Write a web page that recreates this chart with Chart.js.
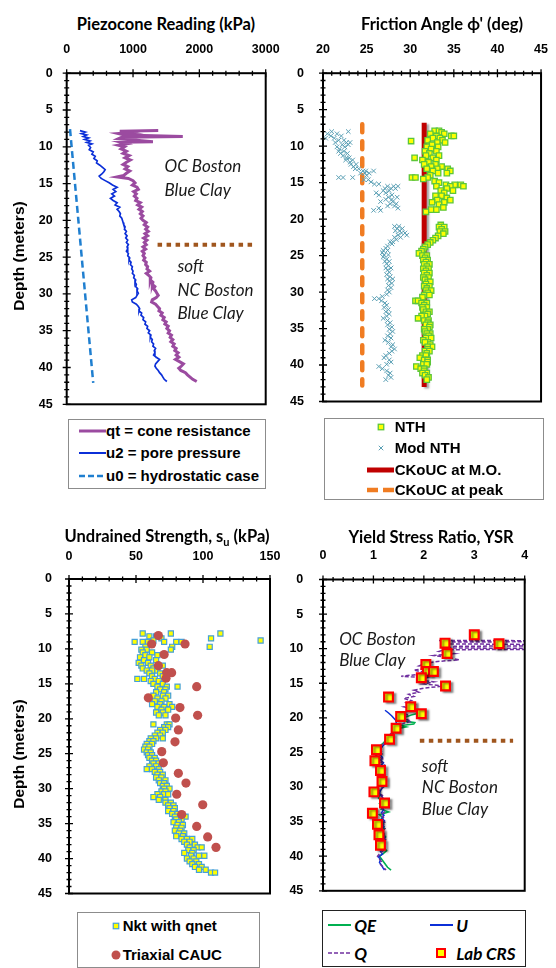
<!DOCTYPE html>
<html>
<head>
<meta charset="utf-8">
<script src="https://cdn.jsdelivr.net/npm/chart.js@4.4.1/dist/chart.umd.min.js"></script>
<style>
  body { margin: 0; background: #fff; }
  #page { position: relative; width: 556px; height: 968px; overflow: hidden; background: #fff; }
  canvas { position: absolute; }
  .title { position: absolute; font: bold 16.5px Lato, sans-serif; color: #000; white-space: nowrap; transform: translate(-50%, -50%); }
  .ytitle { position: absolute; font: bold 15.5px "Liberation Sans", Arial, sans-serif; white-space: nowrap; transform: translate(-50%, -50%) rotate(-90deg); }
  .legend { position: absolute; border: 1px solid #8c8c8c; background: #fff; box-sizing: border-box; }
  .legend svg { position: absolute; overflow: visible; }
  .item { position: absolute; white-space: nowrap; font: bold 15px "Liberation Sans", Arial, sans-serif; line-height: 20px; height: 20px; }
  .legend.ital .item { font: italic bold 17px Lato, sans-serif; }
</style>
</head>
<body>
<div id="page">
  <canvas id="cPiezo"></canvas>
  <canvas id="cPhi"></canvas>
  <canvas id="cSu"></canvas>
  <canvas id="cYsr"></canvas>
  <div class="title" style="left:166px; top:24px">Piezocone Reading (kPa)</div>
  <div class="title" style="left:442px; top:24px">Friction Angle ϕ' (deg)</div>
  <div class="title" style="left:167px; top:537px">Undrained Strength, s<sub style="font-size:11px">u</sub> (kPa)</div>
  <div class="title" style="left:431px; top:537px">Yield Stress Ratio, YSR</div>
  <div class="ytitle" style="left:19px; top:256px">Depth (meters)</div>
  <div class="ytitle" style="left:19px; top:754px">Depth (meters)</div>
</div>
<script>
// ---- data: rows are [depth (m), value, value, ...] ----

// Piezocone reading (kPa)
const qtProfile = [[7.8,1380],[7.9,800],[8.1,950],[8.2,780],[8.4,870],[8.6,1750],[8.7,830],[8.9,780],[9.1,1050],[9.3,1300],[9.4,820],[9.6,900],[9.8,780],[10.0,870],[10.3,820],[10.6,900],[10.9,850],[11.2,940],[11.5,880],[11.8,960],[12.1,900],[12.4,850],[12.7,920],[13.0,880],[13.3,950],[13.6,900],[13.9,860],[14.1,760],[14.3,930],[14.6,1000],[14.9,1030],[15.2,990],[15.5,1060],[15.8,1080],[16.1,1010],[16.4,1050],[16.7,1020],[17.0,1060],[17.3,1040],[17.6,1110],[17.9,1070],[18.2,1130],[18.5,1090],[18.8,1140],[19.1,1110],[19.4,1150],[19.7,1120],[20.0,1150],[20.3,1200],[20.6,1170],[20.9,1220],[21.2,1190],[21.5,1230],[21.8,1180],[22.1,1220],[22.4,1160],[22.7,1210],[23.0,1170],[23.3,1200],[23.6,1150],[23.9,1190],[24.2,1140],[24.5,1170],[24.8,1150],[25.1,1180],[25.4,1160],[25.7,1200],[26.0,1190],[26.3,1220],[26.6,1210],[26.9,1250],[27.2,1200],[27.5,1240],[27.8,1270],[28.1,1260],[28.4,1300],[28.7,1290],[29.0,1330],[29.3,1310],[29.6,1340],[29.9,1360],[30.2,1380],[30.5,1350],[30.8,1290],[31.1,1280],[31.4,1340],[31.7,1370],[32.0,1400],[32.3,1390],[32.6,1440],[32.9,1420],[33.2,1470],[33.5,1450],[33.8,1500],[34.1,1480],[34.4,1530],[34.7,1510],[35.0,1550],[35.3,1530],[35.6,1580],[35.9,1560],[36.2,1600],[36.5,1570],[36.8,1620],[37.1,1600],[37.4,1650],[37.7,1630],[38.0,1680],[38.3,1650],[38.6,1690],[38.9,1640],[39.2,1700],[39.5,1760],[39.8,1730],[40.1,1690],[40.4,1720],[40.7,1790],[41.0,1820],[41.3,1860],[41.6,1900],[41.9,1960]];
const u2Profile = [[7.8,200],[8.0,280],[8.2,220],[8.4,300],[8.6,250],[8.8,330],[9.0,270],[9.2,350],[9.4,300],[9.6,380],[9.8,330],[10.1,360],[10.4,340],[10.7,400],[11.0,380],[11.3,430],[11.6,410],[11.9,460],[12.2,450],[12.5,500],[12.8,540],[13.1,580],[13.4,560],[13.7,530],[14.0,490],[14.3,520],[14.6,580],[14.9,640],[15.2,690],[15.5,760],[15.8,700],[16.1,740],[16.4,680],[16.7,720],[17.0,660],[17.3,700],[17.6,760],[17.9,730],[18.2,800],[18.5,760],[18.8,790],[19.1,810],[19.4,800],[19.7,830],[20.0,840],[20.3,850],[20.6,860],[20.9,880],[21.2,870],[21.5,900],[21.8,880],[22.1,910],[22.4,890],[22.7,920],[23.0,900],[23.3,930],[23.6,910],[23.9,920],[24.2,900],[24.5,930],[24.8,920],[25.1,950],[25.4,940],[25.7,970],[26.0,960],[26.3,990],[26.6,980],[26.9,1000],[27.2,990],[27.5,1020],[27.8,1010],[28.1,1040],[28.4,1030],[28.7,1050],[29.0,1040],[29.3,1070],[29.6,1060],[29.9,1080],[30.2,1060],[30.5,1040],[30.8,980],[31.1,990],[31.4,1050],[31.7,1080],[32.0,1100],[32.3,1090],[32.6,1130],[32.9,1120],[33.2,1160],[33.5,1150],[33.8,1190],[34.1,1180],[34.4,1220],[34.7,1210],[35.0,1250],[35.3,1230],[35.6,1270],[35.9,1260],[36.2,1290],[36.5,1280],[36.8,1310],[37.1,1300],[37.4,1340],[37.7,1320],[38.0,1330],[38.3,1310],[38.6,1350],[38.9,1400],[39.2,1370],[39.5,1340],[39.8,1330],[40.1,1350],[40.4,1380],[40.7,1400],[41.0,1430],[41.3,1450],[41.6,1470],[41.9,1510]];
const u0Profile = [[7.6,50],[42.1,400]];
const piezoBoundary = [[23.3,1370],[23.3,2860]];

// Friction angle (deg)
const nthPoints = [[7.9,32.8,33.3],[8.1,33.6],[8.3,32.3,33.9],[8.6,33.0,34.7,35.0],[8.9,32.6,33.4],[9.2,32.0,33.7],[9.3,30.1],[9.5,33.1,34.0],[9.8,32.5],[10.1,31.9,33.2],[10.4,32.4],[10.7,31.7,33.0],[11.0,32.2],[11.3,31.8,33.3],[11.6,30.5,32.6],[11.9,31.4,33.0],[12.2,32.1],[12.5,32.9,31.6],[12.8,32.4,33.6],[13.1,31.9,33.1,34.3],[13.4,32.6,34.6],[13.7,33.2,34.2],[14.0,32.3],[14.3,30.2,30.6,32.0],[14.5,31.5],[14.8,32.8],[15.0,33.3],[15.3,34.1,35.1,35.8],[15.5,33.0,34.6,36.1],[15.8,34.2],[16.1,33.5,34.9],[16.4,33.9],[16.8,32.9,33.6],[17.1,34.2],[17.4,33.1,34.6],[17.7,32.5,33.9],[18.0,33.3],[18.4,33.8],[18.7,32.4,33.0],[19.0,31.8],[20.8,33.5],[21.1,33.3,33.9],[21.4,33.6],[21.7,33.4,34.0],[22.0,33.8],[22.3,33.2],[22.6,32.9],[22.9,32.6],[23.2,32.3],[23.5,32.0],[23.8,31.7],[24.1,31.5],[24.4,31.3],[24.7,31.0],[25.0,31.4,31.9],[25.3,31.7],[25.6,32.0,31.5],[25.9,31.8],[26.2,32.2,31.6],[26.5,31.9],[26.8,31.5,32.1],[27.1,31.8],[27.4,32.2,31.6],[27.7,31.9],[28.0,32.1,31.5],[28.3,31.7],[28.6,32.0,32.3],[28.9,31.8],[29.2,32.2,31.6],[29.5,31.9],[29.8,32.4,31.8],[30.1,32.0],[30.4,31.6,32.2],[30.7,31.4],[31.2,30.6,30.9],[31.5,31.3,31.9],[31.8,31.6],[32.1,31.9,31.4],[32.4,31.5],[32.7,31.8,32.2],[33.0,32.0],[33.3,31.7,31.3],[33.6,30.9],[33.9,31.6,32.1],[34.2,32.0],[34.5,31.8,32.3],[34.8,32.2],[35.1,32.0,31.6],[35.4,31.7],[35.7,32.3,31.9],[36.0,32.1],[36.3,31.8,32.4],[36.6,31.5],[36.9,32.0,31.7],[37.2,32.3],[37.5,32.5,32.0],[37.8,32.0],[38.1,31.7,32.2],[38.4,31.9],[38.7,31.4,31.8],[39.0,31.1],[39.3,31.6,32.0],[39.6,32.0],[39.9,31.5,31.9],[40.2,30.7],[40.5,31.2,31.6],[40.8,31.6],[41.1,31.9,31.4],[41.4,31.7],[41.7,32.1],[42.0,31.9]];
const modNthPoints = [[8.0,21.0,22.9],[8.3,20.5,21.6],[8.6,20.9,22.1],[8.9,21.3,20.3],[9.2,21.8,22.4],[9.5,21.4,22.7,23.1],[9.8,22.2,22.9],[10.1,21.6,22.5],[10.4,21.9],[10.7,22.4,21.8],[11.0,22.0,22.8],[11.3,22.3],[11.6,22.7,23.0],[11.9,22.6,23.4],[12.2,23.1],[12.5,23.2,23.8],[12.8,23.5],[13.1,24.1,23.7],[13.4,24.6,25.8,24.9],[13.7,24.3,25.3,24.8],[14.0,25.0],[14.3,21.8,22.3,23.4],[14.6,24.7,25.2],[14.9,25.5],[15.2,25.9,26.4],[15.5,27.4,28.1,28.6],[15.8,27.1,27.8,28.3],[16.1,26.9,27.6],[16.4,26.1,27.2],[16.7,26.4,27.9],[17.0,27.5,28.5],[17.3,27.2,27.9],[17.6,26.6,28.0],[17.9,27.7,28.4],[18.2,28.2,27.4],[18.5,26.4,28.6],[18.8,25.8,26.6],[21.0,28.2,28.7],[21.3,28.5,29.1],[21.6,28.8,28.3],[21.9,29.4,29.0],[22.2,28.6,29.6],[22.5,28.9,28.2],[22.8,28.4],[23.1,28.0,27.7],[23.4,27.9],[23.7,27.4],[24.0,27.2],[24.3,26.9,27.4],[24.6,26.8],[24.9,27.0,27.5],[25.2,26.9],[25.5,27.3],[25.8,27.1,27.6],[26.1,27.3],[26.4,27.5],[26.7,27.2,27.8],[27.0,27.4],[27.3,27.6],[27.6,27.3],[27.9,27.7],[28.2,27.4,28.0],[28.5,27.6],[28.8,27.9],[29.1,27.5],[29.4,27.8],[29.7,27.4],[30.0,27.6],[30.3,27.3],[30.6,26.8],[30.9,25.9,26.4],[31.2,26.7],[31.5,27.1],[31.8,27.3],[32.1,27.0],[32.4,27.5],[32.7,27.2],[33.0,27.6],[33.3,27.3],[33.6,26.9],[33.9,27.4],[34.2,27.7],[34.5,27.4],[34.8,27.9],[35.1,27.6],[35.4,28.0],[35.7,27.7],[36.0,27.4],[36.3,27.8],[36.6,27.1],[36.9,27.5],[37.2,28.0],[37.5,27.8],[37.8,28.2],[38.1,27.9],[38.4,27.6],[38.7,27.2],[39.0,27.0],[39.3,27.6],[39.6,27.8],[39.9,27.3],[40.2,26.4],[40.5,26.8],[40.8,27.3],[41.1,27.7],[41.4,27.5],[41.7,27.8],[42.0,27.2]];
const ckoucMO = [[6.8,31.6],[43.0,31.6]];
const ckoucPeak = [[7.0,24.5],[42.8,24.5]];

// Undrained strength (kPa)
const nktPoints = [[7.8,55,76,113],[8.2,60,65],[8.5,69,106],[8.8,63,143],[9.0,49,55,59,71,80,84],[9.3,61],[9.7,57,77,105],[10.1,54,58,76],[10.5,55,62],[10.9,57,66],[11.2,53,60],[11.6,56,65],[12.0,52,59],[12.4,54,61,70],[12.8,55,63],[13.1,58,62,66],[13.5,60,68],[13.9,62,70],[14.3,51,56,64],[14.6,61,67],[15.0,63,70],[15.4,66,73,81],[15.8,68,72],[16.2,65,71],[16.7,63,70,74],[17.1,66,72],[17.5,64,69],[17.9,62,68,75],[18.3,66,71,77],[18.7,69,74],[19.1,65,70],[19.5,67,72],[20.8,63,73,75],[21.2,71,74],[21.6,68,72],[22.0,66,70],[22.4,64,68],[22.8,61,65,70],[23.2,60,63],[23.6,58,62],[24.0,57,60],[24.4,56,59],[24.8,58,61],[25.2,59,62],[25.6,60,64],[26.0,62,65],[26.4,63,67],[26.8,60,65],[27.2,58,62,67],[27.6,64,68],[28.0,66,70],[28.4,65,69],[28.8,67,72],[29.2,68,71],[29.6,70,73],[30.0,71,75],[30.4,69,72],[30.8,66,71,74],[31.2,63,68],[31.6,67,72],[32.0,72,76],[32.4,74,78],[32.8,75,79],[33.2,74,78],[33.6,77,81],[34.0,79,83,87],[34.4,80,84],[34.8,78,82],[35.2,81,85],[35.6,80,84],[36.0,79,83],[36.4,82,86],[36.8,80,85],[37.2,84,88,92],[37.6,86,90],[38.0,88,94],[38.4,90,96,99],[38.8,89,93],[39.2,86,92],[39.6,91,97,101],[40.0,88,93],[40.4,90,95],[40.8,92,97],[41.2,94,99],[41.6,97,102],[42.0,106,109]];
const caucPoints = [[8.1,66.7],[9.3,61.7,86.6],[10.8,71.0],[12.4,66.7],[13.4,72.9,76.6],[14.2,72.4],[15.4,95.3],[17.0,59.2],[18.4,82.8],[19.5,96.0],[19.9,79.6],[21.6,81.6],[23.3,79.1],[24.7,69.2],[26.3,70.4],[27.8,81.6],[29.2,87.3],[30.8,80.4],[32.3,99.8],[33.7,84.1],[35.4,95.3],[36.9,103.5],[38.4,109.7]];

// Yield stress ratio
const qProfile = [[8.8,2.3],[8.85,4.3],[9.0,4.3],[9.05,2.5],[9.3,2.4],[9.4,4.3],[9.6,4.3],[9.65,2.6],[9.9,2.5],[9.95,4.3],[10.1,4.3],[10.15,2.4],[10.4,2.3],[10.7,2.6],[11.0,2.2],[11.3,2.5],[11.6,2.7],[11.9,2.2],[12.2,2.0],[12.5,1.9],[12.8,2.1],[13.1,1.8],[13.4,2.0],[13.7,1.9],[14.0,1.55],[14.2,2.05],[14.5,1.9],[14.8,2.2],[15.1,2.0],[15.4,2.4],[15.7,2.0],[16.0,1.8],[16.3,1.9],[16.6,1.7],[16.9,1.8],[17.2,1.6],[17.5,1.75],[17.8,1.65],[18.1,1.8],[18.4,1.6],[18.7,1.75],[19.0,1.7],[19.3,1.6],[19.6,1.7],[19.9,1.55],[20.2,1.65],[20.5,1.75],[20.8,1.6],[21.1,1.5],[21.4,1.45],[21.7,1.4],[22.0,1.38],[22.4,1.33],[22.8,1.28],[23.2,1.27],[23.6,1.22],[24.0,1.17],[24.4,1.12],[24.8,1.13],[25.2,1.17],[25.6,1.12],[26.0,1.2],[26.4,1.15],[26.8,1.22],[27.2,1.16],[27.6,1.2],[28.0,1.14],[28.4,1.21],[28.8,1.16],[29.2,1.2],[29.6,1.15],[30.0,1.2],[30.4,1.12],[30.8,1.1],[31.2,1.18],[31.6,1.14],[32.0,1.2],[32.4,1.16],[32.8,1.22],[33.2,1.17],[33.6,1.22],[34.0,1.15],[34.4,1.2],[34.8,1.17],[35.2,1.24],[35.6,1.18],[36.0,1.23],[36.4,1.17],[36.8,1.22],[37.2,1.19],[37.6,1.24],[38.0,1.18],[38.4,1.22],[38.8,1.15],[39.2,1.2],[39.6,1.13],[40.0,1.08],[40.4,1.12],[40.8,1.16],[41.2,1.14],[41.6,1.2],[42.0,1.25]];
const qeProfile = [[19.3,1.92],[19.6,1.75],[20.0,1.6],[20.4,1.55],[20.7,1.82],[20.9,1.8],[21.1,1.55],[21.3,1.65],[21.6,1.45],[22.0,1.42],[22.4,1.35],[22.8,1.3],[23.2,1.25],[23.6,1.2],[24.0,1.14],[24.4,1.1],[24.8,1.05],[25.2,1.08],[25.6,1.04],[26.0,1.1],[26.4,1.06],[26.8,1.12],[27.2,1.08],[27.6,1.14],[28.0,1.1],[28.4,1.16],[28.8,1.12],[29.2,1.18],[29.6,1.12],[30.0,1.08],[30.4,1.02],[30.8,1.06],[31.2,1.12],[31.6,1.1],[32.0,1.16],[32.4,1.12],[32.8,1.2],[33.2,1.15],[33.6,1.3],[34.0,1.12],[34.4,1.18],[34.8,1.14],[35.2,1.2],[35.6,1.16],[36.0,1.22],[36.4,1.15],[36.8,1.2],[37.2,1.24],[37.6,1.18],[38.0,1.22],[38.4,1.17],[38.8,1.21],[39.2,1.26],[39.6,1.2],[40.0,1.12],[40.4,1.16],[40.8,1.2],[41.2,1.24],[41.6,1.28],[42.0,1.35]];
const uProfile = [[18.9,1.23],[19.3,1.3],[19.7,1.36],[20.1,1.41],[20.5,1.46],[20.9,1.45],[21.3,1.42],[21.7,1.44],[22.1,1.4],[22.5,1.36],[22.9,1.33],[23.3,1.3],[23.7,1.24],[24.1,1.18],[24.5,1.14],[24.9,1.16],[25.3,1.12],[25.7,1.18],[26.1,1.14],[26.5,1.2],[26.9,1.15],[27.3,1.19],[27.7,1.14],[28.1,1.2],[28.5,1.16],[28.9,1.21],[29.3,1.17],[29.7,1.22],[30.1,1.18],[30.5,1.14],[30.9,1.12],[31.3,1.16],[31.7,1.2],[32.1,1.14],[32.5,1.19],[32.9,1.15],[33.3,1.2],[33.7,1.16],[34.1,1.21],[34.5,1.17],[34.9,1.22],[35.3,1.16],[35.7,1.21],[36.1,1.15],[36.5,1.2],[36.9,1.17],[37.3,1.23],[37.7,1.18],[38.1,1.22],[38.5,1.16],[38.9,1.2],[39.3,1.14],[39.7,1.18],[40.1,1.1],[40.5,1.14],[40.9,1.12],[41.3,1.16],[41.7,1.19],[42.0,1.22]];
const crsPoints = [[8.0,3.0],[9.2,2.42],[9.3,3.49],[10.7,2.46],[12.3,2.04],[13.3,2.07,2.19],[14.2,1.95],[15.4,2.43],[17.0,1.3],[18.4,1.74],[19.4,1.95],[19.8,1.54],[21.5,1.45],[23.1,1.32],[24.6,1.06],[26.2,1.03],[27.6,1.14],[29.2,1.17],[30.7,1.01],[32.3,1.22],[33.8,0.98],[35.4,1.08],[36.9,1.11],[38.4,1.14]];
const ysrBoundary = [[23.3,1.92],[23.3,3.77]];

// rows -> {x: value, y: depth}
const toXY = rows => rows.flatMap(r => r.slice(1).map(v => ({ x: v, y: r[0] })));

const tickFont = { family: '"Liberation Sans", Arial, sans-serif', size: 12.5, weight: 'bold' };

// frame + Excel style crossing ticks (major and minor)
const frameTicks = {
    id: 'frameTicks',
    afterDraw(chart, args, opts) {
        const { ctx, chartArea: a, scales: { x, y } } = chart;
        ctx.save();
        ctx.strokeStyle = '#000';
        ctx.lineWidth = 1.3;
        ctx.beginPath();
        const xMajor = x.options.ticks.stepSize;
        for (let i = 0; x.min + i * opts.xMinor <= x.max + 1e-9; i++) {
            const v = x.min + i * opts.xMinor;
            const major = Math.abs((v - x.min) / xMajor - Math.round((v - x.min) / xMajor)) < 1e-6;
            const len = major ? 4 : 2.5;
            const px = x.getPixelForValue(v);
            ctx.moveTo(px, a.top - len);
            ctx.lineTo(px, a.top + len);
        }
        for (let v = 0; v <= 45; v += 1) {
            const len = v % 5 === 0 ? 4 : 2.5;
            const py = y.getPixelForValue(v);
            ctx.moveTo(a.left - len, py);
            ctx.lineTo(a.left + len, py);
        }
        ctx.stroke();
        ctx.lineWidth = 2;
        ctx.strokeRect(a.left, a.top, a.right - a.left, a.bottom - a.top);
        ctx.restore();
    }
};

// italic zone labels placed in data coordinates
const zoneNotes = {
    id: 'zoneNotes',
    afterDatasetsDraw(chart, args, opts) {
        const { ctx, scales: { x, y } } = chart;
        ctx.save();
        ctx.font = 'italic 17px Lato, sans-serif';
        ctx.fillStyle = '#1a1a1a';
        ctx.textBaseline = 'middle';
        (opts.items || []).forEach(n => ctx.fillText(n.text, x.getPixelForValue(n.x), y.getPixelForValue(n.y)));
        ctx.restore();
    }
};

// drop shadow for datasets that ask for one
const dropShadow = {
    id: 'dropShadow',
    beforeDatasetDraw(chart, args) {
        const ds = chart.data.datasets[args.index];
        if (!ds.shadow) return;
        const ctx = chart.ctx;
        ctx.save();
        ctx.shadowColor = ds.shadow;
        ctx.shadowOffsetX = 2.5;
        ctx.shadowOffsetY = 1.5;
        ctx.shadowBlur = 2;
    },
    afterDatasetDraw(chart, args) {
        if (chart.data.datasets[args.index].shadow) chart.ctx.restore();
    }
};

function line(rows, color, width, dash, extra) {
    return Object.assign({
        data: toXY(rows), showLine: true, pointRadius: 0, borderColor: color,
        borderWidth: width, borderDash: dash || [], tension: 0
    }, extra || {});
}

function markers(rows, style, radius, fill, stroke, width, extra) {
    return Object.assign({
        data: toXY(rows), showLine: false, pointStyle: style, pointRadius: radius,
        backgroundColor: fill, borderColor: stroke, pointBorderWidth: width, borderWidth: width
    }, extra || {});
}

function panel(id, box, area, xs, yPad, datasets, notes) {
    const cv = document.getElementById(id);
    cv.width = box.W;
    cv.height = box.H;
    cv.style.left = box.L + 'px';
    cv.style.top = box.T + 'px';
    return new Chart(cv, {
        type: 'scatter',
        data: { datasets },
        options: {
            responsive: false,
            animation: false,
            events: [],
            layout: { padding: { left: 0, top: 0, right: box.L + box.W - area.r, bottom: box.T + box.H - area.b } },
            plugins: {
                legend: { display: false },
                tooltip: { enabled: false },
                frameTicks: { xMinor: xs.minor },
                zoneNotes: { items: notes || [] }
            },
            scales: {
                x: {
                    type: 'linear', position: 'top', min: xs.min, max: xs.max,
                    ticks: { stepSize: xs.step, padding: xs.pad, maxRotation: 0, color: '#000', font: tickFont,
                             callback: v => String(v) },
                    grid: { display: false }, border: { display: false },
                    afterFit: s => { s.height = area.t - box.T; }
                },
                y: {
                    type: 'linear', reverse: true, min: 0, max: 45,
                    ticks: { stepSize: 5, padding: yPad, color: '#000', font: tickFont },
                    grid: { display: false }, border: { display: false },
                    afterFit: s => { s.width = area.l - box.L; }
                }
            }
        },
        plugins: [frameTicks, zoneNotes, dropShadow]
    });
}

const C = {
    qt: '#9b4ba0', u2: '#0b2fd8', u0: '#1f7fd0', brown: '#a0561e',
    nthFill: '#ffff00', nthEdge: '#5cc63a', modNth: '#5a9fb4', mo: '#c00000', peak: '#f07c22',
    nktEdge: '#46a0d8', cauc: '#c0504d', qe: '#00b050', u: '#0b2fd8', q: '#7030a0', crs: '#ff0000'
};

// Piezocone
panel('cPiezo', { L: 0, T: 40, W: 290, H: 380 }, { l: 66.7, t: 73.2, r: 265.7, b: 404.3 },
    { min: 0, max: 3000, step: 1000, minor: 200, pad: 8 }, 6, [
        line(qtProfile, C.qt, 3),
        line(u2Profile, C.u2, 1.7),
        line(u0Profile, C.u0, 2.5, [7, 4]),
        line(piezoBoundary, C.brown, 4, [4.5, 4.5])
    ], [
        { x: 1475, y: 12.7, text: 'OC Boston' }, { x: 1475, y: 15.9, text: 'Blue Clay' },
        { x: 1670, y: 26.3, text: 'soft' }, { x: 1670, y: 29.5, text: 'NC Boston' }, { x: 1670, y: 32.6, text: 'Blue Clay' }
    ]);

// Friction angle
panel('cPhi', { L: 278, T: 40, W: 278, H: 380 }, { l: 323, t: 73.2, r: 546.3, b: 404.3 },
    { min: 20, max: 45, step: 5, minor: 1, pad: 8 }, 11, [
        markers(nthPoints, 'rect', 3.8, C.nthFill, C.nthEdge, 1.3),
        markers(modNthPoints, 'crossRot', 3.2, C.modNth, C.modNth, 1),
        line(ckoucMO, C.mo, 5, [], { shadow: 'rgba(0,0,0,0.35)' }),
        line(ckoucPeak, C.peak, 4.5, [8, 9], { borderCapStyle: 'round' })
    ]);

// Undrained strength
panel('cSu', { L: 0, T: 545, W: 290, H: 365 }, { l: 69, t: 579, r: 270, b: 898.3 },
    { min: 0, max: 150, step: 50, minor: 10, pad: 6.5 }, 9, [
        markers(caucPoints, 'circle', 4.6, C.cauc, C.cauc, 0),
        markers(nktPoints, 'rect', 3.6, C.nthFill, C.nktEdge, 1.2)
    ]);

// Yield stress ratio
panel('cYsr', { L: 278, T: 545, W: 278, H: 365 }, { l: 323, t: 579.5, r: 524.7, b: 899.3 },
    { min: 0, max: 4, step: 1, minor: 0.2, pad: 8.5 }, 11.7, [
        markers(crsPoints, 'rect', 6.2, C.nthFill, C.crs, 2.2, { shadow: 'rgba(0,0,0,0.4)' }),
        line(qProfile, C.q, 1.5, [4, 2]),
        line(uProfile, C.u, 1.5),
        line(qeProfile, C.qe, 1.6),
        line(ysrBoundary, C.brown, 4, [4.5, 4.5])
    ], [
        { x: 0.32, y: 8.7, text: 'OC Boston' }, { x: 0.32, y: 11.7, text: 'Blue Clay' },
        { x: 1.96, y: 27.0, text: 'soft' }, { x: 1.96, y: 30.0, text: 'NC Boston' }, { x: 1.96, y: 33.2, text: 'Blue Clay' }
    ]);

// ---- legends (HTML boxes under each panel) ----
function symbol(s) {
    const w = s.len || 12;
    let body = '';
    if (s.kind === 'line') {
        body = `<line x1="0" y1="6" x2="${w}" y2="6" stroke="${s.color}" stroke-width="${s.width}"` +
            (s.dash ? ` stroke-dasharray="${s.dash}"` : '') + ` stroke-linecap="${s.cap || 'butt'}"/>`;
    } else if (s.kind === 'square') {
        body = `<rect x="${(w - s.size) / 2}" y="${6 - s.size / 2}" width="${s.size}" height="${s.size}" fill="${s.fill}" stroke="${s.color}" stroke-width="${s.width}"/>`;
    } else if (s.kind === 'cross') {
        const a = w / 2 - s.size / 2, b = w / 2 + s.size / 2, c = 6 - s.size / 2, d = 6 + s.size / 2;
        body = `<path d="M${a} ${c}L${b} ${d}M${b} ${c}L${a} ${d}" stroke="${s.color}" stroke-width="1"/>`;
    } else if (s.kind === 'circle') {
        body = `<circle cx="${w / 2}" cy="6" r="${s.size / 2}" fill="${s.fill}"/>`;
    }
    return `<svg width="${w}" height="12" style="left:${s.x}px; top:${s.y - 6}px">${body}</svg>`;
}

function legend(box, items, cls, border) {
    const el = document.createElement('div');
    el.className = 'legend' + (cls ? ' ' + cls : '');
    Object.assign(el.style, { left: box.l + 'px', top: box.t + 'px', width: box.w + 'px', height: box.h + 'px' });
    if (border) el.style.border = border;
    el.innerHTML = items.map(it =>
        symbol(Object.assign({ y: it.y }, it.sym)) +
        `<div class="item" style="left:${it.tx}px; top:${it.y - 10}px">${it.text}</div>`).join('');
    document.getElementById('page').appendChild(el);
}

legend({ l: 68, t: 419, w: 198, h: 70 }, [
    { y: 11, tx: 37, text: 'qt = cone resistance', sym: { kind: 'line', x: 10, len: 27, color: C.qt, width: 3 } },
    { y: 33, tx: 37, text: 'u2 = pore pressure', sym: { kind: 'line', x: 10, len: 27, color: C.u2, width: 2 } },
    { y: 56, tx: 37, text: 'u0 = hydrostatic case', sym: { kind: 'line', x: 10, len: 27, color: C.u0, width: 2.5, dash: '6 3' } }
]);

legend({ l: 323.7, t: 418, w: 220, h: 82 }, [
    { y: 8, tx: 70, text: 'NTH', sym: { kind: 'square', x: 50, len: 12, size: 5.5, fill: C.nthFill, color: C.nthEdge, width: 1.3 } },
    { y: 29, tx: 70, text: 'Mod NTH', sym: { kind: 'cross', x: 50, len: 12, size: 4.5, color: C.modNth } },
    { y: 51, tx: 70, text: 'CKoUC at M.O.', sym: { kind: 'line', x: 42, len: 27, color: C.mo, width: 5 } },
    { y: 71, tx: 70, text: 'CKoUC at peak', sym: { kind: 'line', x: 42, len: 27, color: C.peak, width: 4.5, dash: '11 5' } }
]);

legend({ l: 76.7, t: 911.7, w: 183.3, h: 56 }, [
    { y: 13, tx: 45, text: 'Nkt with qnet', sym: { kind: 'square', x: 32, len: 12, size: 5.5, fill: C.nthFill, color: C.nktEdge, width: 1.2 } },
    { y: 42, tx: 45, text: 'Triaxial CAUC', sym: { kind: 'circle', x: 32, len: 12, size: 9, fill: C.cauc } }
]);

legend({ l: 322.3, t: 910, w: 204, h: 57 }, [
    { y: 14, tx: 31, text: 'QE', sym: { kind: 'line', x: 5, len: 23, color: C.qe, width: 2 } },
    { y: 14, tx: 133, text: 'U', sym: { kind: 'line', x: 107, len: 23, color: C.u, width: 2 } },
    { y: 42, tx: 31, text: 'Q', sym: { kind: 'line', x: 5, len: 23, color: C.q, width: 1.5, dash: '4 2' } },
    { y: 42, tx: 133, text: 'Lab CRS', sym: { kind: 'square', x: 112, len: 12, size: 8, fill: C.nthFill, color: C.crs, width: 2 } }
], 'ital', '1.5px solid #222');
</script>
</body>
</html>
